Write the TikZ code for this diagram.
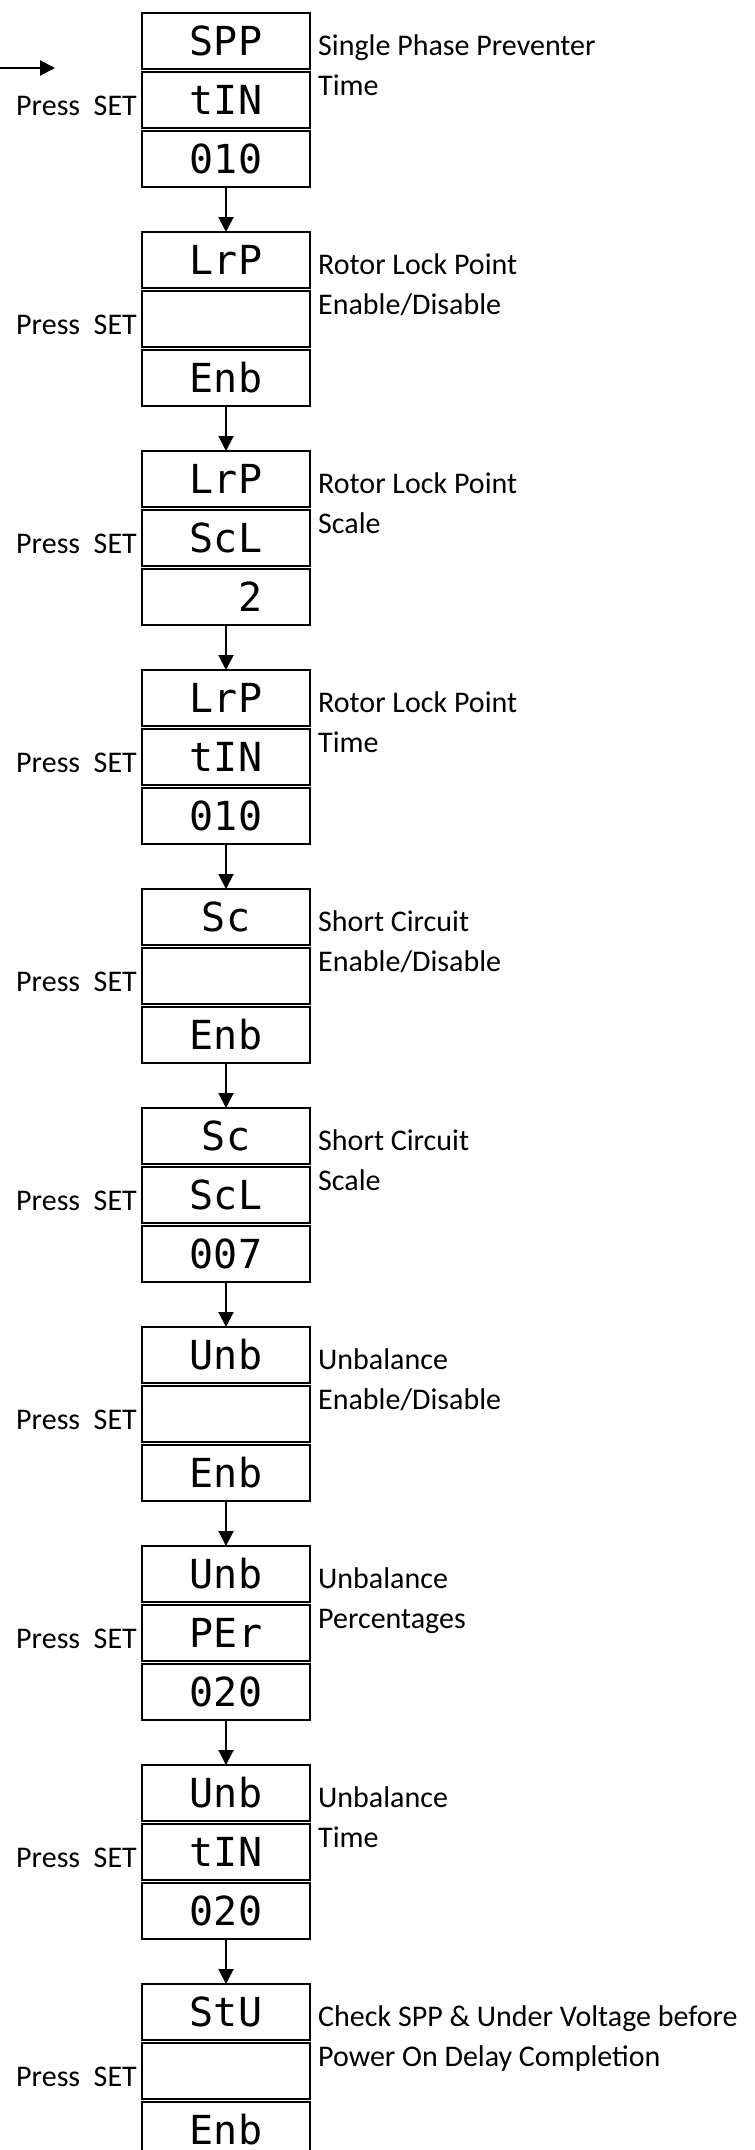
\documentclass[tikz,border=0pt]{standalone}
\usepackage{fontspec}
\setmainfont{Carlito}
\newfontfamily\segfont{DejaVu Sans Mono}
\usetikzlibrary{arrows.meta,positioning}

\begin{document}
\begin{tikzpicture}
  [
   x=1pt,y=1pt,
   node distance=3pt,
   dn/.style={rectangle,draw,line width=1.5pt,minimum width=168pt,minimum height=56pt,inner sep=0pt,outer sep=0pt,
              font=\segfont\fontsize{40}{40}\selectfont,text height=29pt,text depth=0pt},
   tn/.style={align=left,inner sep=0pt,font=\fontsize{30}{40}\selectfont},
   pn/.style={inner sep=0pt,font=\fontsize{30}{40}\selectfont},
   arr/.style={line width=2pt,-{Triangle[length=15pt,width=15pt]}}
  ]
   \useasboundingbox (0,0) rectangle (755,-2150);

   % single phase preventer
   \coordinate (in) at (0,-68);
   \coordinate (inend) at (55,-68);
   \node[dn] (spp1) at (226,-41) {SPP};
   \node[dn] (spp2) [below=of spp1] {tIN};
   \node[dn] (spp3) [below=of spp2] {010};
   \node[tn,anchor=base west] (spptxt) at ([xshift=8pt,yshift=-82pt]spp1.north east) {Single Phase Preventer\\Time};
   \node[pn,anchor=base east] (spppr) at ([xshift=-5pt,yshift=-15pt]spp2.west) {Press\ \ SET};

   % rotor lock point
   \node[dn] (lrpe1) [below=45pt of spp3] {LrP};
   \node[dn] (lrpe2) [below=of lrpe1] {};
   \node[dn] (lrpe3) [below=of lrpe2] {Enb};
   \node[tn,anchor=base west] (lrpetxt) at ([xshift=8pt,yshift=-82pt]lrpe1.north east) {Rotor Lock Point\\Enable/Disable};
   \node[pn,anchor=base east] (lrpepr) at ([xshift=-5pt,yshift=-15pt]lrpe2.west) {Press\ \ SET};

   \node[dn] (lrps1) [below=45pt of lrpe3] {LrP};
   \node[dn] (lrps2) [below=of lrps1] {ScL};
   \node[dn] (lrps3) [below=of lrps2] {\phantom{00}2};
   \node[tn,anchor=base west] (lrpstxt) at ([xshift=8pt,yshift=-82pt]lrps1.north east) {Rotor Lock Point\\Scale};
   \node[pn,anchor=base east] (lrpspr) at ([xshift=-5pt,yshift=-15pt]lrps2.west) {Press\ \ SET};

   \node[dn] (lrpt1) [below=45pt of lrps3] {LrP};
   \node[dn] (lrpt2) [below=of lrpt1] {tIN};
   \node[dn] (lrpt3) [below=of lrpt2] {010};
   \node[tn,anchor=base west] (lrpttxt) at ([xshift=8pt,yshift=-82pt]lrpt1.north east) {Rotor Lock Point\\Time};
   \node[pn,anchor=base east] (lrptpr) at ([xshift=-5pt,yshift=-15pt]lrpt2.west) {Press\ \ SET};

   % short circuit
   \node[dn] (sce1) [below=45pt of lrpt3] {Sc};
   \node[dn] (sce2) [below=of sce1] {};
   \node[dn] (sce3) [below=of sce2] {Enb};
   \node[tn,anchor=base west] (scetxt) at ([xshift=8pt,yshift=-82pt]sce1.north east) {Short Circuit\\Enable/Disable};
   \node[pn,anchor=base east] (scepr) at ([xshift=-5pt,yshift=-15pt]sce2.west) {Press\ \ SET};

   \node[dn] (scs1) [below=45pt of sce3] {Sc};
   \node[dn] (scs2) [below=of scs1] {ScL};
   \node[dn] (scs3) [below=of scs2] {007};
   \node[tn,anchor=base west] (scstxt) at ([xshift=8pt,yshift=-82pt]scs1.north east) {Short Circuit\\Scale};
   \node[pn,anchor=base east] (scspr) at ([xshift=-5pt,yshift=-15pt]scs2.west) {Press\ \ SET};

   % unbalance
   \node[dn] (unbe1) [below=45pt of scs3] {Unb};
   \node[dn] (unbe2) [below=of unbe1] {};
   \node[dn] (unbe3) [below=of unbe2] {Enb};
   \node[tn,anchor=base west] (unbetxt) at ([xshift=8pt,yshift=-82pt]unbe1.north east) {Unbalance\\Enable/Disable};
   \node[pn,anchor=base east] (unbepr) at ([xshift=-5pt,yshift=-15pt]unbe2.west) {Press\ \ SET};

   \node[dn] (unbp1) [below=45pt of unbe3] {Unb};
   \node[dn] (unbp2) [below=of unbp1] {PEr};
   \node[dn] (unbp3) [below=of unbp2] {020};
   \node[tn,anchor=base west] (unbptxt) at ([xshift=8pt,yshift=-82pt]unbp1.north east) {Unbalance\\Percentages};
   \node[pn,anchor=base east] (unbppr) at ([xshift=-5pt,yshift=-15pt]unbp2.west) {Press\ \ SET};

   \node[dn] (unbt1) [below=45pt of unbp3] {Unb};
   \node[dn] (unbt2) [below=of unbt1] {tIN};
   \node[dn] (unbt3) [below=of unbt2] {020};
   \node[tn,anchor=base west] (unbttxt) at ([xshift=8pt,yshift=-82pt]unbt1.north east) {Unbalance\\Time};
   \node[pn,anchor=base east] (unbtpr) at ([xshift=-5pt,yshift=-15pt]unbt2.west) {Press\ \ SET};

   % check before power on delay
   \node[dn] (stu1) [below=45pt of unbt3] {StU};
   \node[dn] (stu2) [below=of stu1] {};
   \node[dn] (stu3) [below=of stu2] {Enb};
   \node[tn,anchor=base west] (stutxt) at ([xshift=8pt,yshift=-82pt]stu1.north east) {Check SPP \& Under Voltage before\\Power On Delay Completion};
   \node[pn,anchor=base east] (stupr) at ([xshift=-5pt,yshift=-15pt]stu2.west) {Press\ \ SET};

   \draw[arr] (in) -- (inend);
   \draw[arr] (spp3) -- (lrpe1);
   \draw[arr] (lrpe3) -- (lrps1);
   \draw[arr] (lrps3) -- (lrpt1);
   \draw[arr] (lrpt3) -- (sce1);
   \draw[arr] (sce3) -- (scs1);
   \draw[arr] (scs3) -- (unbe1);
   \draw[arr] (unbe3) -- (unbp1);
   \draw[arr] (unbp3) -- (unbt1);
   \draw[arr] (unbt3) -- (stu1);

\end{tikzpicture}
\end{document}
